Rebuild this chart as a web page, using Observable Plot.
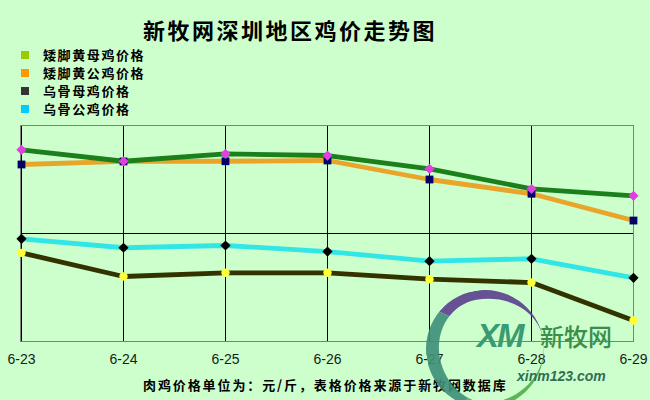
<!DOCTYPE html>
<html>
<head>
<meta charset="utf-8">
<script src="https://cdn.jsdelivr.net/npm/d3@7"></script>
<script src="https://cdn.jsdelivr.net/npm/@observablehq/plot@0.6"></script>
<style>
  html, body { margin: 0; padding: 0; background: #ccffcc; }
  #wrap { position: relative; width: 650px; height: 400px; overflow: hidden; background: #ccffcc; }
  #title { position: absolute; left: 0; width: 580px; top: 14px; text-align: center;
    font-family: "Noto Sans CJK SC", sans-serif; font-weight: 700; font-size: 22px; letter-spacing: 2.5px; color: #000; line-height: 30px; }
  #legend { position: absolute; left: 21px; top: 46px; font-family: "Noto Sans CJK SC", sans-serif; font-weight: 700; font-size: 13px; letter-spacing: 1.6px; color: #000; }
  .row { height: 18px; line-height: 18px; display: flex; align-items: center; }
  .sw { width: 8px; height: 8px; margin-right: 14px; }
  #caption { position: absolute; left: 143px; top: 375px; font-family: "Noto Sans CJK SC", sans-serif; font-weight: 700; font-size: 13px; letter-spacing: 1.9px; color: #000; line-height: 20px; white-space: nowrap; }
  #chart { position: absolute; left: 0; top: 0; }
  #wm { position: absolute; left: 0; top: 0; width: 650px; height: 400px; pointer-events: none; }
  #arc { position: absolute; left: 426px; top: 290px; width: 118px; height: 118px; border-radius: 50%; box-sizing: border-box;
    border-left: 13px solid #3f8f7a; border-top: 9px solid #5b3f8e; border-right: 0 solid transparent; border-bottom: 5px solid #4fae4f; transform: rotate(-10deg); opacity: 0.9; }
  #xm { position: absolute; left: 477px; top: 318px; font-family: "Liberation Sans", Arial, sans-serif; font-style: italic; font-weight: 700; font-size: 33px; line-height: 36px; color: #3a9a72; letter-spacing: -2px; }
  #xmcn { position: absolute; left: 540px; top: 320px; font-family: "Noto Sans CJK SC", sans-serif; font-weight: 500; font-size: 24px; line-height: 32px; color: #3b8d4c; }
  #xmurl { position: absolute; left: 517px; top: 369px; font-family: "Liberation Sans", Arial, sans-serif; font-style: italic; font-weight: 700; font-size: 14px; line-height: 15px; color: #2f6f55; }
</style>
</head>
<body>
<div id="wrap">
  <div id="chart"></div>
  <div id="title"></div>
  <div id="legend"></div>
  <div id="caption"></div>
  <div id="wm"><div id="arc"></div><div id="xm">XM</div><div id="xmcn">新牧网</div><div id="xmurl">xinm123.com</div></div>
</div>
<script>
// ---- data (y axis unlabeled, arbitrary price units) ----
const dates = ["6-23", "6-24", "6-25", "6-26", "6-27", "6-28", "6-29"];
const seriesNames = ["矮脚黄母鸡价格", "矮脚黄公鸡价格", "乌骨母鸡价格", "乌骨公鸡价格"];
const henDwarfYellow = [17.75, 16.69, 17.38, 17.22, 15.99, 14.14, 13.49];
const roosterDwarfYellow = [16.39, 16.67, 16.69, 16.76, 15.00, 13.68, 11.20];
const henSilkie = [8.21, 6.02, 6.36, 6.36, 5.77, 5.46, 1.94];
const roosterSilkie = [9.51, 8.68, 8.89, 8.33, 7.44, 7.66, 5.90];
const legendColors = ["#99cc00", "#ff9900", "#333333", "#00ccff"];
const titleText = "新牧网深圳地区鸡价走势图";
const captionText = "肉鸡价格单位为：元/斤，表格价格来源于新牧网数据库";

// styles per series: line colour, marker symbol, marker fill, marker size
const styles = [
  {line: "#1b7f1b", symbol: "diamond2", fill: "#e040e0", r: 4.6},
  {line: "#e8a52a", symbol: "square", fill: "#000066", r: 4.4},
  {line: "#333300", symbol: "circle", fill: "#ffff33", r: 4.2},
  {line: "#33e6e6", symbol: "diamond2", fill: "#000000", r: 4.6}
];
const allSeries = [henDwarfYellow, roosterDwarfYellow, henSilkie, roosterSilkie];
const tidy = allSeries.map((vals, i) => dates.map((d, j) => ({date: d, value: vals[j], s: i})));

const order = [2, 3, 1, 0];
const marks = [
  Plot.ruleX(dates, {stroke: "#000", strokeWidth: 1}),
  Plot.ruleY([10], {stroke: "#000", strokeWidth: 1}),
  Plot.frame({stroke: "#808080", strokeWidth: 1}),
  Plot.axisX({tickSize: 0, tickPadding: 13, fontSize: 14, fill: "#1a1a1a"})
];
for (const i of order) {
  marks.push(Plot.line(tidy[i], {x: "date", y: "value", stroke: styles[i].line, strokeWidth: 4.8, strokeLinejoin: "round", strokeLinecap: "butt"}));
}
for (const i of order) {
  marks.push(Plot.dot(tidy[i], {x: "date", y: "value", symbol: styles[i].symbol, fill: styles[i].fill, stroke: "none", r: styles[i].r}));
}

const chart = Plot.plot({
  width: 650,
  height: 375,
  marginLeft: 20,
  marginRight: 17,
  marginTop: 125,
  marginBottom: 34,
  style: {background: "transparent", fontFamily: "'Liberation Sans', Arial, sans-serif", fontSize: "14px", overflow: "visible"},
  x: {type: "point", domain: dates, padding: 0, label: null},
  y: {domain: [0, 20], axis: null},
  marks
});
document.getElementById("chart").appendChild(chart);

document.getElementById("title").textContent = titleText;
document.getElementById("caption").textContent = captionText;
const leg = document.getElementById("legend");
seriesNames.forEach((name, i) => {
  const row = document.createElement("div");
  row.className = "row";
  const sw = document.createElement("span");
  sw.className = "sw";
  sw.style.background = legendColors[i];
  const t = document.createElement("span");
  t.textContent = name;
  row.appendChild(sw); row.appendChild(t);
  leg.appendChild(row);
});
</script>
</body>
</html>
